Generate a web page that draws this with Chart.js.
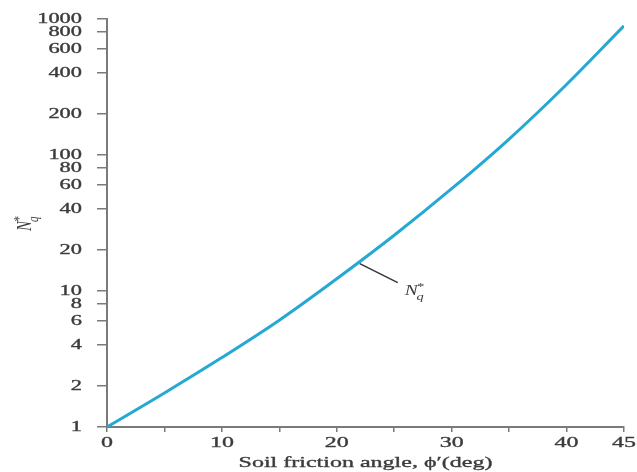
<!DOCTYPE html>
<html>
<head>
<meta charset="utf-8">
<script src="https://cdn.jsdelivr.net/npm/chart.js@4.4.0/dist/chart.umd.min.js"></script>
<style>
  html, body { margin: 0; padding: 0; background: #fff; }
</style>
</head>
<body>
<canvas id="chart" width="637" height="472"></canvas>
<script>
// values
const phi = [0, 5, 10, 15, 20, 25, 30, 35, 40, 45];
const nq = [1, 1.78, 3.24, 6.1, 12.3, 25.7, 56.5, 131, 330, 890];
const yTicks = [1, 2, 4, 6, 8, 10, 20, 40, 60, 80, 100, 200, 400, 600, 800, 1000];
const xLabels = [0, 10, 20, 30, 40, 45];
const xTitle = "Soil friction angle, \u03D5\u2032(deg)";
const leaderPhi = 22;
const leaderNq = 15.9;

const serif = "'Liberation Serif', 'DejaVu Serif', serif";
const axisColor = "#7a7a7a";
const textColor = "#3c3c3c";
const SX = 1.6; // the reference text is drawn wide

function wideText(ctx, text, x, y, align, font, sx) {
  ctx.save();
  ctx.translate(x, y);
  ctx.scale(sx, 1);
  ctx.font = font;
  ctx.fillStyle = textColor;
  ctx.strokeStyle = textColor;
  ctx.lineWidth = 0.35;
  ctx.textAlign = align;
  ctx.textBaseline = "middle";
  ctx.fillText(text, 0, 0);
  ctx.strokeText(text, 0, 0);
  ctx.restore();
}

function drawNq(ctx, x, y) {
  ctx.fillStyle = textColor;
  ctx.textAlign = "left";
  ctx.textBaseline = "alphabetic";
  ctx.font = "italic 15px " + serif;
  ctx.fillText("N", x, y);
  const w = ctx.measureText("N").width;
  ctx.font = "italic 11px " + serif;
  ctx.fillText("*", x + w - 1, y - 5);
  ctx.fillText("q", x + w - 1, y + 5);
}

const labelPlugin = {
  id: "nqLabels",
  afterDraw(chart) {
    const ctx = chart.ctx;
    const xs = chart.scales.x;
    const ys = chart.scales.y;
    ctx.save();
    yTicks.forEach((v) => {
      wideText(ctx, String(v), 82, ys.getPixelForValue(v), "right", "14px " + serif, SX);
    });
    xLabels.forEach((v) => {
      wideText(ctx, String(v), xs.getPixelForValue(v), 443, "center", "15px " + serif, SX);
    });
    wideText(ctx, xTitle, (xs.left + xs.right) / 2, 463, "center", "15px " + serif, SX);

    const px = xs.getPixelForValue(leaderPhi);
    const py = ys.getPixelForValue(leaderNq);
    ctx.strokeStyle = "#333";
    ctx.lineWidth = 1.3;
    ctx.beginPath();
    ctx.moveTo(px, py);
    ctx.lineTo(px + 38, py + 19);
    ctx.stroke();

    ctx.save();
    ctx.translate(px + 45, py + 31);
    ctx.scale(1.3, 1);
    drawNq(ctx, 0, 0);
    ctx.restore();

    ctx.translate(31, 231);
    ctx.rotate(-Math.PI / 2);
    ctx.scale(1, 1.4);
    drawNq(ctx, 0, 0);
    ctx.restore();
  }
};

const ctx = document.getElementById("chart");
new Chart(ctx, {
  type: "line",
  data: {
    datasets: [
      {
        data: phi.map((p, i) => ({ x: p, y: nq[i] })),
        borderColor: "rgb(38, 168, 212)",
        borderWidth: 3,
        pointRadius: 0,
        cubicInterpolationMode: "monotone",
        fill: false,
      },
    ],
  },
  options: {
    responsive: false,
    animation: false,
    layout: { padding: { top: 19, right: 13, left: 0, bottom: 0 } },
    plugins: { legend: { display: false }, tooltip: { enabled: false } },
    scales: {
      x: {
        type: "linear",
        min: 0,
        max: 45,
        afterFit: (s) => { s.height = 45; },
        border: { display: true, color: axisColor, width: 2 },
        grid: { drawOnChartArea: false, drawTicks: true, tickLength: 5, color: axisColor, lineWidth: 1.5 },
        ticks: { stepSize: 5, display: false },
      },
      y: {
        type: "logarithmic",
        min: 1,
        max: 1000,
        afterFit: (s) => { s.width = 107; },
        afterBuildTicks: (s) => { s.ticks = yTicks.map((v) => ({ value: v })); },
        border: { display: true, color: axisColor, width: 2 },
        grid: { drawOnChartArea: false, drawTicks: true, tickLength: 10, color: axisColor, lineWidth: 1.5 },
        ticks: { display: false, autoSkip: false },
      },
    },
  },
  plugins: [labelPlugin],
});
</script>
</body>
</html>
